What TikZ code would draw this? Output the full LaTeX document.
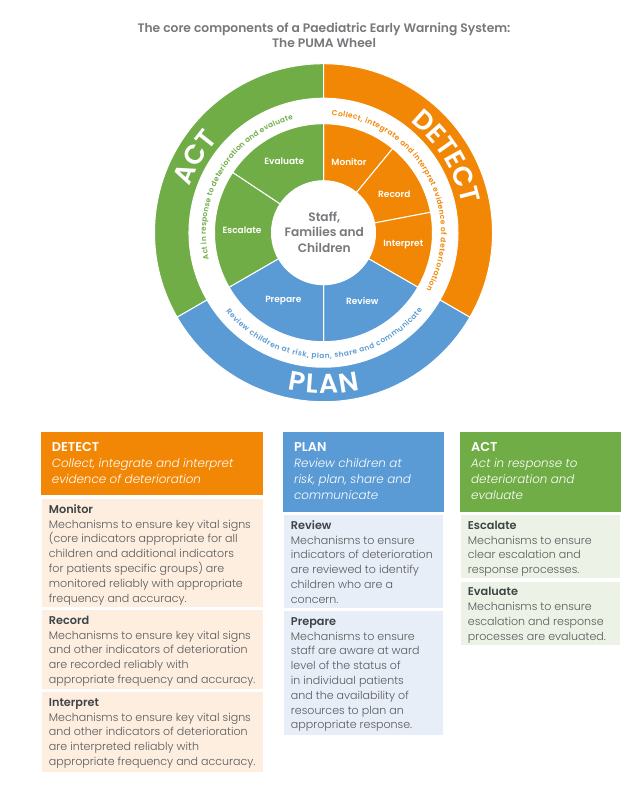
\documentclass[tikz,border=0pt]{standalone}
\usepackage{fontspec}
\usetikzlibrary{decorations.text}
\setmainfont{Poppins}
\newfontfamily\lightf{Poppins Light}
\newfontfamily\semif{Poppins SemiBold}
\definecolor{orangeM}{HTML}{F28705}
\definecolor{greenM}{HTML}{70AD47}
\definecolor{blueM}{HTML}{5B9BD5}
\definecolor{orangeL}{HTML}{FDEEDF}
\definecolor{greenL}{HTML}{ECF2E5}
\definecolor{blueL}{HTML}{E8EEF8}
\definecolor{bodyG}{HTML}{58595B}
\definecolor{headG}{HTML}{3F4448}
\definecolor{titleG}{HTML}{77787B}
\tikzset{
  x=1pt,y=1pt,
  sector/.style={draw=white,line width=1pt},
  wheellabel/.style={text=white,font=\semif\fontsize{9}{10}\selectfont,inner sep=0pt},
  bodytext/.style={anchor=north west,inner sep=0pt,align=left,text=bodyG,font=\lightf\fontsize{11.05}{14.8}\selectfont},
  headtext/.style={anchor=north west,inner sep=0pt,align=left,text=white,font=\lightf\itshape\fontsize{11.9}{16}\selectfont},
}
\newcommand{\sect}[5]{% color, a1, a2, r1, r2
  \filldraw[sector,fill=#1] (#2:#5) arc[start angle=#2,end angle=#3,radius=#5] -- (#3:#4) arc[start angle=#3,end angle=#2,radius=#4] -- cycle;}
\begin{document}
\begin{tikzpicture}
\useasboundingbox (0,0) rectangle (638,-796);
\fill[white] (0,0) rectangle (638,-796);
\node[inner sep=0pt,align=center,text=titleG,font=\semif\fontsize{12.3}{15}\selectfont] (title) at (324,-35.5)
  {The core components of a Paediatric Early Warning System:\\The PUMA Wheel};
\begin{scope}[shift={(323.5,-232.7)}]
  \sect{greenM}{90}{210}{134.5}{169}
  \sect{orangeM}{-30}{90}{134.5}{169}
  \sect{blueM}{210}{330}{134.5}{169}
  \sect{orangeM}{50.6}{90}{52}{109}
  \sect{orangeM}{10.8}{50.6}{52}{109}
  \sect{orangeM}{-30}{10.8}{52}{109}
  \sect{blueM}{-90}{-30}{52}{109}
  \sect{blueM}{210}{270}{52}{109}
  \sect{greenM}{146.4}{210}{52}{109}
  \sect{greenM}{90}{146.4}{52}{109}
  \fill[white] (0,0) circle[radius=52];
  % band captions
  \path[postaction={decorate,decoration={text along path,text align=fit to path,
    text={|\semif\fontsize{7.4}{9}\selectfont\color{orangeM}|Collect, integrate and interpret evidence of deterioration}}}]
    (86:117.5) arc[start angle=86,end angle=-29,radius=117.5];
  \path[postaction={decorate,decoration={text along path,text align=fit to path,
    text={|\semif\fontsize{7.4}{9}\selectfont\color{greenM}|Act in response to deterioration and evaluate}}}]
    (193:117.5) arc[start angle=193,end angle=105,radius=117.5];
  \path[postaction={decorate,decoration={text along path,text align=fit to path,
    text={|\semif\fontsize{7.4}{9}\selectfont\color{blueM}|Review children at risk, plan, share and communicate}}}]
    (219:125.5) arc[start angle=219,end angle=322,radius=125.5];
  % ring titles
  \path[postaction={decorate,decoration={text along path,text align=fit to path,
    text={|\semif\fontsize{27}{29}\selectfont\color{white}|DETECT}}}]
    (52:141) arc[start angle=52,end angle=13,radius=141];
  \path[postaction={decorate,decoration={text along path,text align=fit to path,
    text={|\semif\fontsize{27}{29}\selectfont\color{white}|ACT}}}]
    (161:141) arc[start angle=161,end angle=139,radius=141];
  \path[postaction={decorate,decoration={text along path,text align=fit to path,
    text={|\semif\fontsize{27}{29}\selectfont\color{white}|PLAN}}}]
    (257:161) arc[start angle=257,end angle=283,radius=161];
\end{scope}
\node[wheellabel] (wMonitor) at (349,-161.7) {Monitor};
\node[wheellabel] (wRecord) at (394.3,-194.3) {Record};
\node[wheellabel] (wInterpret) at (403.3,-244.7) {Interpret};
\node[wheellabel] (wReview) at (362.3,-300.7) {Review};
\node[wheellabel] (wPrepare) at (283.3,-300.7) {Prepare};
\node[wheellabel] (wEscalate) at (242,-230.7) {Escalate};
\node[wheellabel] (wEvaluate) at (284.3,-161.7) {Evaluate};
\node[inner sep=0pt,align=center,text=titleG,font=\semif\fontsize{12.2}{15.2}\selectfont] (centre) at (324.3,-232.2)
  {Staff,\\Families and\\Children};
% column fills
\fill[orangeM] (41,-432) rectangle (263,-495);
\fill[orangeL] (42,-499) rectangle (263,-607);
\fill[orangeL] (42,-610) rectangle (263,-689);
\fill[orangeL] (42,-692) rectangle (263,-772);
\fill[blueM] (283,-432) rectangle (444,-512);
\fill[blueL] (284,-515) rectangle (443,-608);
\fill[blueL] (284,-611) rectangle (443,-735);
\fill[greenM] (460,-432) rectangle (621,-512);
\fill[greenL] (461,-515) rectangle (620.3,-578);
\fill[greenL] (461,-582) rectangle (620.3,-645);
% headers
\newcommand{\hdr}[1]{\rule{0pt}{10pt}{\semif\upshape\fontsize{12.8}{16}\selectfont #1}}
\node[headtext] (hDetect) at (51.7,-441.7) {\hdr{DETECT}\\Collect, integrate and interpret\\evidence of deterioration};
\node[headtext] (hPlan) at (294,-441.7) {\hdr{PLAN}\\Review children at\\risk, plan, share and\\communicate};
\node[headtext] (hAct) at (471,-441.7) {\hdr{ACT}\\Act in response to\\deterioration and\\evaluate};
% bodies
\newcommand{\ttl}[1]{\rule{0pt}{10pt}{\semif\color{headG}\fontsize{11.3}{14.8}\selectfont #1}}
\node[bodytext] (bMonitor) at (48.7,-503) {\ttl{Monitor}\\Mechanisms to ensure key vital signs\\(core indicators appropriate for all\\children and additional indicators\\for patients specific groups) are\\monitored reliably with appropriate\\frequency and accuracy.};
\node[bodytext] (bRecord) at (48.7,-614) {\ttl{Record}\\Mechanisms to ensure key vital signs\\and other indicators of deterioration\\are recorded reliably with\\appropriate frequency and accuracy.};
\node[bodytext] (bInterpret) at (48.7,-696) {\ttl{Interpret}\\Mechanisms to ensure key vital signs\\and other indicators of deterioration\\are interpreted reliably with\\appropriate frequency and accuracy.};
\node[bodytext] (bReview) at (290.7,-519) {\ttl{Review}\\Mechanisms to ensure\\indicators of deterioration\\are reviewed to identify\\children who are a\\concern.};
\node[bodytext] (bPrepare) at (290.7,-615) {\ttl{Prepare}\\Mechanisms to ensure\\staff are aware at ward\\level of the status of\\in individual patients\\and the availability of\\resources to plan an\\appropriate response.};
\node[bodytext] (bEscalate) at (467.7,-519) {\ttl{Escalate}\\Mechanisms to ensure\\clear escalation and\\response processes.};
\node[bodytext] (bEvaluate) at (467.7,-585.7) {\ttl{Evaluate}\\Mechanisms to ensure\\escalation and response\\processes are evaluated.};
\end{tikzpicture}
\end{document}
